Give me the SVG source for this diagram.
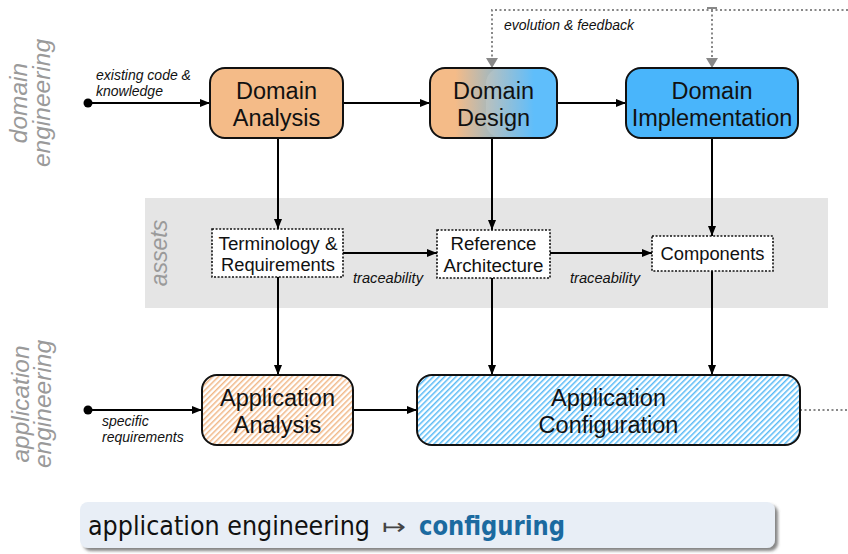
<svg xmlns="http://www.w3.org/2000/svg" width="848" height="554" viewBox="0 0 848 554">
<style>
.node{stroke:#111;stroke-width:2}
.lbl{font-family:"Liberation Sans",Arial,sans-serif;font-size:23.5px;fill:#111;text-anchor:middle}
.asset{font-family:"Liberation Sans",Arial,sans-serif;font-size:17.5px;fill:#111;text-anchor:middle}
.it{font-family:"Liberation Sans",Arial,sans-serif;font-size:14px;font-style:italic;fill:#111}
.side{font-family:"Liberation Sans",Arial,sans-serif;font-size:24.5px;font-style:italic;fill:#9a9a9a;text-anchor:middle}
.box{fill:#fff;stroke:#111;stroke-width:1.6;stroke-dasharray:2,1.6}
.con{stroke:#000;stroke-width:2;fill:none}
.fb{stroke:#888;stroke-width:2;fill:none;stroke-dasharray:2,2.5}
.ban{font-family:"DejaVu Sans Condensed","DejaVu Sans",sans-serif;font-stretch:condensed;font-size:27px;fill:#111}
.cfg{font-weight:bold;fill:#1b6aa0}
.map{font-family:"DejaVu Sans",sans-serif;font-size:22px;fill:#444}
</style>
<defs>
<marker id="ah" markerWidth="10" markerHeight="8" refX="10" refY="4" orient="auto" markerUnits="userSpaceOnUse"><path d="M0,0 L10,4 L0,8 Z" fill="#000"/></marker>
<marker id="ag" markerWidth="10" markerHeight="12" refX="10" refY="6" orient="auto" markerUnits="userSpaceOnUse"><path d="M0,0 L10,6 L0,12 Z" fill="#888"/></marker>
<linearGradient id="dd" x1="0" y1="0" x2="1" y2="0">
<stop offset="0.2" stop-color="#f4bb88"/>
<stop offset="0.82" stop-color="#49b5fb"/>
</linearGradient>
<pattern id="ho" width="4" height="4" patternUnits="userSpaceOnUse" patternTransform="rotate(45)">
<rect width="4" height="4" fill="#fff"/><rect width="1.5" height="4" fill="#f1b888"/>
</pattern>
<pattern id="hb" width="4" height="4" patternUnits="userSpaceOnUse" patternTransform="rotate(45)">
<rect width="4" height="4" fill="#fff"/><rect width="1.5" height="4" fill="#58baf6"/>
</pattern>
<filter id="sh" x="-5%" y="-20%" width="110%" height="150%"><feDropShadow dx="3" dy="3" stdDeviation="1.5" flood-color="#555" flood-opacity="0.7"/></filter>
</defs>

<rect x="145" y="198" width="683" height="110" fill="#e5e5e5"/>
<text class="side" style="font-size:23px" transform="translate(167,253) rotate(-90)">assets</text>

<text class="side" transform="translate(27,103) rotate(-90)">domain</text>
<text class="side" transform="translate(50,103) rotate(-90)">engineering</text>
<text class="side" transform="translate(29,404) rotate(-90)">application</text>
<text class="side" transform="translate(51,404) rotate(-90)">engineering</text>

<g id="connectors">
<circle cx="88" cy="103" r="4.5" fill="#000"/>
<line class="con" x1="88" y1="103" x2="210" y2="103" marker-end="url(#ah)"/>
<line class="con" x1="343" y1="103" x2="430" y2="103" marker-end="url(#ah)"/>
<line class="con" x1="557" y1="103" x2="626" y2="103" marker-end="url(#ah)"/>
<line class="con" x1="278" y1="138" x2="278" y2="229" marker-end="url(#ah)"/>
<line class="con" x1="492" y1="138" x2="492" y2="230" marker-end="url(#ah)"/>
<line class="con" x1="712" y1="138" x2="712" y2="236" marker-end="url(#ah)"/>
<line class="con" x1="343" y1="253" x2="437" y2="253" marker-end="url(#ah)"/>
<line class="con" x1="550" y1="253" x2="652" y2="253" marker-end="url(#ah)"/>
<line class="con" x1="278" y1="277" x2="278" y2="375" marker-end="url(#ah)"/>
<line class="con" x1="492" y1="278" x2="492" y2="375" marker-end="url(#ah)"/>
<line class="con" x1="712" y1="271" x2="712" y2="375" marker-end="url(#ah)"/>
<circle cx="88" cy="410" r="4.5" fill="#000"/>
<line class="con" x1="88" y1="410" x2="202" y2="410" marker-end="url(#ah)"/>
<line class="con" x1="353" y1="410" x2="417" y2="410" marker-end="url(#ah)"/>
<line class="fb" x1="800" y1="410" x2="848" y2="410"/>
<path class="fb" d="M848,10 H492 V68" marker-end="url(#ag)"/>
<path class="fb" d="M712,10 V68" marker-end="url(#ag)"/>
<line x1="707" y1="8" x2="717" y2="8" stroke="#888" stroke-width="2"/>
<text class="it" x="96" y="80">existing code &amp;</text>
<text class="it" x="96" y="96">knowledge</text>
<text class="it" x="504" y="30">evolution &amp; feedback</text>
<text class="it" x="353" y="283" textLength="70" lengthAdjust="spacingAndGlyphs">traceability</text>
<text class="it" x="570" y="283" textLength="70" lengthAdjust="spacingAndGlyphs">traceability</text>
<text class="it" x="102" y="426">specific</text>
<text class="it" x="102" y="442">requirements</text>
</g>

<g id="domain-analysis">
<rect class="node" x="210" y="68" width="133" height="70" rx="15" fill="#f4bb88"/>
<text class="lbl" x="276.5" y="99">Domain</text>
<text class="lbl" x="276.5" y="126">Analysis</text>
</g>
<g id="domain-design">
<rect x="430" y="68" width="127" height="70" rx="15" fill="url(#dd)"/>
<rect x="486" y="68" width="71" height="70" rx="15" fill="#fff" opacity="0.12"/>
<rect class="node" x="430" y="68" width="127" height="70" rx="15" fill="none"/>
<text class="lbl" x="493.5" y="99">Domain</text>
<text class="lbl" x="493.5" y="126">Design</text>
</g>
<g id="domain-implementation">
<rect class="node" x="626" y="68" width="172" height="70" rx="15" fill="#49b5fb"/>
<text class="lbl" x="712" y="99">Domain</text>
<text class="lbl" x="712" y="126">Implementation</text>
</g>

<g id="terminology">
<rect class="box" x="212" y="229" width="131" height="48"/>
<text class="asset" x="278" y="250" textLength="119" lengthAdjust="spacingAndGlyphs">Terminology &amp;</text>
<text class="asset" x="278" y="271" textLength="114" lengthAdjust="spacingAndGlyphs">Requirements</text>
</g>
<g id="reference-architecture">
<rect class="box" x="437" y="230" width="113" height="48"/>
<text class="asset" x="493.5" y="250" textLength="86" lengthAdjust="spacingAndGlyphs">Reference</text>
<text class="asset" x="493.5" y="272" textLength="100" lengthAdjust="spacingAndGlyphs">Architecture</text>
</g>
<g id="components">
<rect class="box" x="652" y="236" width="121" height="35"/>
<text class="asset" x="712.5" y="260" textLength="104" lengthAdjust="spacingAndGlyphs">Components</text>
</g>

<g id="application-analysis">
<rect class="node" x="202" y="375" width="151" height="70" rx="15" fill="url(#ho)"/>
<text class="lbl" x="277.5" y="406">Application</text>
<text class="lbl" x="277.5" y="433">Analysis</text>
</g>
<g id="application-configuration">
<rect class="node" x="417" y="375" width="383" height="70" rx="15" fill="url(#hb)"/>
<text class="lbl" x="608.5" y="406">Application</text>
<text class="lbl" x="608.5" y="433">Configuration</text>
</g>

<g id="banner">
<rect x="80" y="502" width="695" height="46" rx="8" fill="#e8eef6" filter="url(#sh)"/>
<text class="ban" x="88" y="535" textLength="282" lengthAdjust="spacingAndGlyphs">application engineering</text>
<text class="map" transform="translate(382,534) scale(1.3,1)">↦</text>
<text class="ban cfg" x="419" y="535" textLength="146" lengthAdjust="spacingAndGlyphs">configuring</text>
</g>
</svg>
